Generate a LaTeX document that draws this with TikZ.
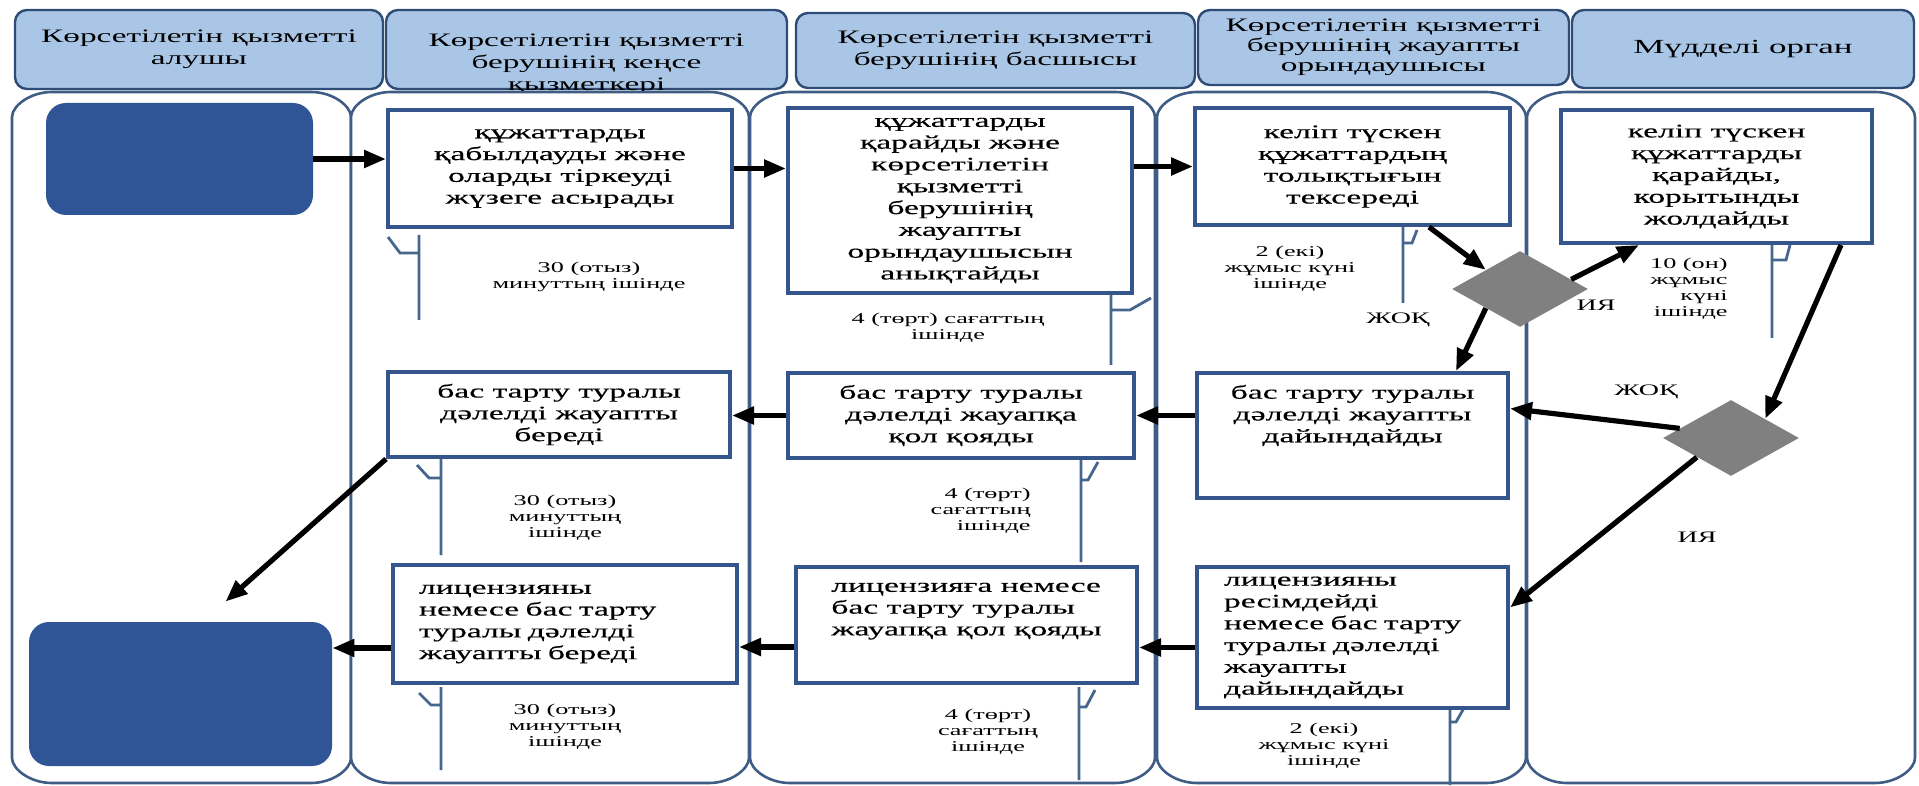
\documentclass[tikz,border=0pt]{standalone}
\usepackage{fontspec}
\setmainfont{Liberation Serif}[FakeStretch=1.75]
\newfontfamily\boxfont{Liberation Serif}[FakeStretch=1.75, FakeBold=0.3]
\usetikzlibrary{shapes.geometric,arrows.meta,calc}

\definecolor{headfill}{RGB}{170,198,230}
\definecolor{headline}{RGB}{46,76,118}
\definecolor{laneline}{RGB}{62,92,132}
\definecolor{boxline}{RGB}{52,86,140}
\definecolor{termfill}{RGB}{47,85,151}
\definecolor{tickline}{RGB}{70,102,142}
\definecolor{decfill}{RGB}{128,128,128}

\tikzset{
  headbox/.style={draw=headline, fill=headfill, line width=1.2pt, rounded corners=6pt,
    align=center, font=\fontsize{9.5}{11}\selectfont, inner sep=0pt},
  lanebox/.style={draw=laneline, line width=1.3pt, fill=white},
  stepbox/.style={draw=boxline, line width=2pt, fill=white, align=center,
    font=\boxfont\fontsize{9.6}{10.9}\selectfont, inner sep=0pt},
  termbox/.style={fill=termfill, rounded corners=10pt, inner sep=0pt},
  decision/.style={diamond, fill=decfill, inner sep=0pt, minimum width=68pt, minimum height=38pt},
  timetext/.style={align=center, font=\fontsize{7.5}{8}\selectfont, inner sep=0pt},
  answer/.style={font=\fontsize{8}{9}\selectfont, inner sep=0pt},
  tick/.style={draw=tickline, line width=1.4pt},
  flow/.style={line width=2.6pt, -{Triangle[length=11pt,width=8.5pt]}},
}

\begin{document}
\begin{tikzpicture}[x=0.5pt,y=-0.5pt]
\useasboundingbox (0,0) rectangle (1919,786);

\foreach \xa/\xb in {12/351,351/749,750/1155,1157/1526,1527/1915}
  \draw[lanebox] (\xa,117) -- (\xa,758) .. controls (\xa,769) and (\xa+18,783) .. (\xa+40,783)
    -- (\xb-40,783) .. controls (\xb-18,783) and (\xb,769) .. (\xb,758)
    -- (\xb,117) .. controls (\xb,106) and (\xb-18,92) .. (\xb-40,92)
    -- (\xa+40,92) .. controls (\xa+18,92) and (\xa,106) .. (\xa,117) -- cycle;

\node[headbox, minimum width=184pt, minimum height=39.5pt] (H1) at (199,49.5) {Көрсетілетін қызметті\\алушы};
\begin{scope}
\clip (384,8) rectangle (789,90.5);
\node[headbox, minimum width=200.5pt, minimum height=39.5pt] (H2) at (586.5,49.5) {};
\node[align=center, font=\fontsize{9.5}{11}\selectfont, inner sep=0pt] (H2t) at (586.5,64) {Көрсетілетін қызметті\\берушінің кеңсе\\қызметкері};
\end{scope}
\node[headbox, minimum width=199.5pt, minimum height=37.5pt] (H3) at (995.5,50.5) {Көрсетілетін қызметті\\берушінің басшысы};
\node[headbox, font=\fontsize{9.5}{10}\selectfont, minimum width=185.5pt, minimum height=37.5pt] (H4) at (1383.5,47.5) {Көрсетілетін қызметті\\берушінің жауапты\\орындаушысы};
\node[headbox, font=\fontsize{10}{11}\selectfont, minimum width=171pt, minimum height=39pt] (H5) at (1743,49) {Мүдделі орган};

\draw[tick] (388,237) -- (400,253) -- (419,253) (419,235) -- (419,320);
\draw[tick] (417,465) -- (429,478) -- (441,478) (441,457) -- (441,555);
\draw[tick] (419,693) -- (431,705) -- (441,705) (441,687) -- (441,770);
\draw[tick] (1111,293) -- (1111,365) (1111,310) -- (1130,310) -- (1151,298);
\draw[tick] (1081,458) -- (1081,562) (1081,480) -- (1088,480) -- (1098,462);
\draw[tick] (1079,687) -- (1079,780) (1079,707) -- (1086,707) -- (1095,690);
\draw[tick] (1403,225) -- (1403,303) (1403,243) -- (1412,243) -- (1417,230);
\draw[tick] (1450,705) -- (1450,785) (1450,722) -- (1456,722) -- (1464,708);
\draw[tick] (1772,243) -- (1772,338) (1772,260) -- (1786,260) -- (1790,245);

\node[termbox, minimum width=133.5pt, minimum height=56pt] (start) at (179.5,159) {};
\node[termbox, minimum width=151.5pt, minimum height=72pt] (finish) at (180.5,694) {};

\node[stepbox, minimum width=172pt, minimum height=58.5pt] (B21) at (560,168.5) {құжаттарды\\қабылдауды және\\оларды тіркеуді\\жүзеге асырады};
\node[stepbox, minimum width=171pt, minimum height=42.5pt] (B22) at (559,414.5) {бас тарту туралы\\дәлелді жауапты\\береді};
\node[stepbox, text width=146pt, inner xsep=13pt, align=left, minimum height=59pt] (B23) at (565,624) {лицензияны\\немесе бас тарту\\туралы дәлелді\\жауапты береді};
\node[stepbox, minimum width=172pt, minimum height=92.5pt] (B31) at (960,200.5) {құжаттарды\\қарайды және\\көрсетілетін\\қызметті\\берушінің\\жауапты\\орындаушысын\\анықтайды};
\node[stepbox, minimum width=173pt, minimum height=42.5pt] (B32) at (961,415.5) {бас тарту туралы\\дәлелді жауапқа\\қол қояды};
\node[stepbox, align=left, minimum width=170.5pt, minimum height=58pt] (B33) at (966.5,625) {лицензияға немесе\\бас тарту туралы\\жауапқа қол қояды\\[5pt]\mbox{}};
\node[stepbox, minimum width=157.5pt, minimum height=58.5pt] (B41) at (1352.5,166.5) {келіп түскен\\құжаттардың\\толықтығын\\тексереді};
\node[stepbox, minimum width=155.5pt, minimum height=62.5pt] (B42) at (1352.5,435.5) {бас тарту туралы\\дәлелді жауапты\\дайындайды\\[11pt]\mbox{}};
\node[stepbox, text width=128.5pt, inner xsep=13.5pt, align=left, minimum height=70.5pt] (B43) at (1352.5,637.5) {лицензияны\\ресімдейді\\немесе бас тарту\\туралы дәлелді\\жауапты\\дайындайды};
\node[stepbox, minimum width=155.5pt, minimum height=66.5pt] (B51) at (1716.5,176.5) {келіп түскен\\құжаттарды\\қарайды,\\корытынды\\жолдайды};

\node[decision] (D1) at (1520,289) {};
\node[decision] (D2) at (1731,438) {};

\node[timetext] (t21) at (589,277) {30 (отыз)\\минуттың ішінде};
\node[timetext] (t22) at (565,518) {30 (отыз)\\минуттың\\ішінде};
\node[timetext] (t23) at (565,727) {30 (отыз)\\минуттың\\ішінде};
\node[timetext] (t31) at (948,328) {4 (төрт) сағаттың\\ішінде};
\node[timetext, align=right, anchor=east] (t32) at (1031,511) {4 (төрт)\\сағаттың\\ішінде};
\node[timetext] (t33) at (988,732) {4 (төрт)\\сағаттың\\ішінде};
\node[timetext] (t41) at (1290,269) {2 (екі)\\жұмыс күні\\ішінде};
\node[timetext] (t43) at (1324,746) {2 (екі)\\жұмыс күні\\ішінде};
\node[timetext, align=right, anchor=east] (t51) at (1728,289) {10 (он)\\жұмыс\\күні\\ішінде};

\node[answer] (no1) at (1398,320) {ЖОҚ};
\node[answer] (yes1) at (1596,305) {ИЯ};
\node[answer] (no2) at (1646,392) {ЖОҚ};
\node[answer] (yes2) at (1697,537) {ИЯ};

\draw[flow] (start.east) -- (start.east -| B21.west);
\draw[flow] (B21.east) -- (B21.east -| B31.west);
\draw[flow] (B41.west -| B31.east) -- (B41.west);
\draw[flow] ($(B41.south east)+(-83,0)$) -- (D1.north west);
\draw[flow] ($(D1.east)!0.25!(D1.north)$) -- ($(B51.south west)+(80,0)$);
\draw[flow] (D1.south west) -- ($(B42.north east)+(-54,0)$);
\draw[flow] ($(B51.south east)+(-33,0)$) -- (D2.north east);
\draw[flow] ($(D2.west)!0.5!(D2.north west)$) -- ($(B42.east)+(0,-27)$);
\draw[flow] (D2.south west) -- ($(B43.east)+(0,-30)$);
\draw[flow] (B42.west |- B32.east) -- (B32.east);
\draw[flow] (B32.west) -- (B32.west -| B22.east);
\draw[flow] (B22.south west) -- ($(finish.north)+(45,-20)$);
\draw[flow] ($(B43.west)+(0,10)$) -- ($(B33.east)+(0,22.5)$);
\draw[flow] ($(B33.west)+(0,22)$) -- ($(B23.east)+(0,23)$);
\draw[flow] ($(B23.west)+(0,24)$) -- ($(finish.east)+(0,-46)$);
\end{tikzpicture}
\end{document}
